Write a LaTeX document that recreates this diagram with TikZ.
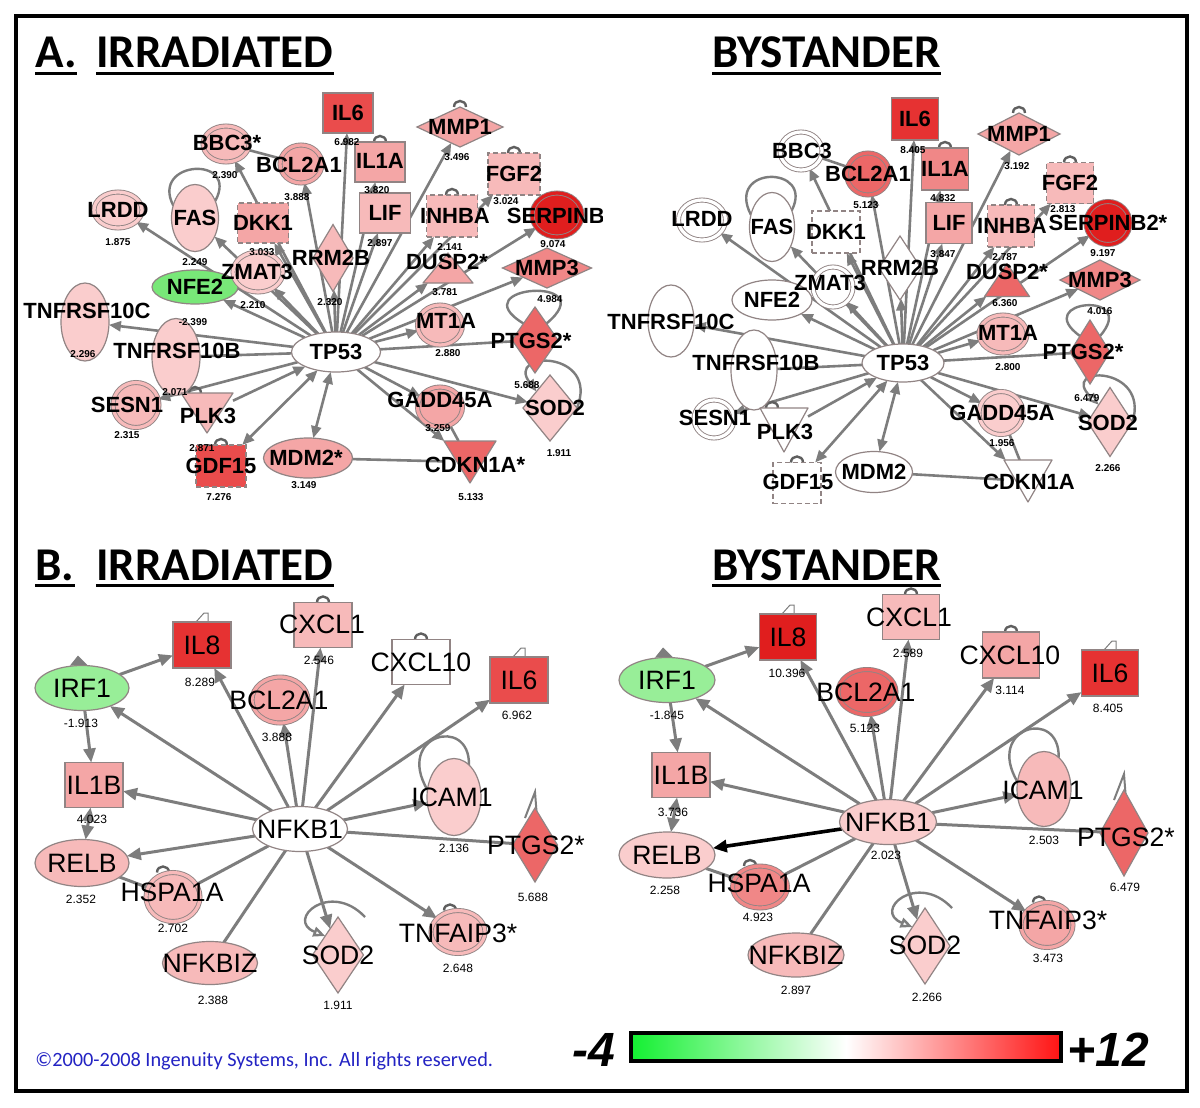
\documentclass[tikz,border=0pt]{standalone}
\usepackage{fontspec}
\setmainfont{Liberation Sans}
\newfontfamily\carl{Carlito}
\usetikzlibrary{shapes.geometric,arrows.meta}
\pgfdeclarelayer{edg}\pgfdeclarelayer{lab}\pgfsetlayers{edg,main,lab}
\definecolor{ng}{RGB}{145,132,132}
\definecolor{eg}{RGB}{125,125,125}
\definecolor{dg}{RGB}{95,95,95}
\definecolor{p1}{RGB}{250,205,205}
\definecolor{p2}{RGB}{247,186,186}
\definecolor{p3}{RGB}{244,166,166}
\definecolor{p4}{RGB}{240,135,135}
\definecolor{p5}{RGB}{236,103,103}
\definecolor{p6}{RGB}{234,76,76}
\definecolor{p7}{RGB}{230,50,50}
\definecolor{p8}{RGB}{224,30,30}
\definecolor{gA}{RGB}{120,232,120}
\definecolor{gB}{RGB}{152,238,152}
\definecolor{cbG}{RGB}{20,240,50}
\definecolor{cbR}{RGB}{255,20,20}
\definecolor{cpblue}{RGB}{35,35,195}
\tikzset{
 base/.style={inner sep=0pt, outer sep=0pt, draw=ng, line width=0.6pt},
 ell/.style n args={3}{base, ellipse, minimum width=#1*0.5pt, minimum height=#2*0.5pt, fill=#3},
 dbl/.style n args={3}{base, ellipse, minimum width=#1*0.5pt, minimum height=#2*0.5pt, fill=#3, double=#3, double distance=1.6pt, line width=0.45pt},
 box/.style n args={3}{base, rectangle, minimum width=#1*0.5pt, minimum height=#2*0.5pt, fill=#3},
 dbox/.style n args={3}{box={#1}{#2}{#3}, dash pattern=on 2.5pt off 1.5pt},
 dia/.style n args={3}{base, diamond, minimum width=#1*0.5pt, minimum height=#2*0.5pt, fill=#3},
 tribox/.style 2 args={inner sep=0pt, outer sep=0pt, minimum width=#1*0.5pt, minimum height=#2*0.5pt},
 trist/.style={draw=ng, line width=0.6pt, line join=round},
 lblA/.style={inner sep=0pt, font=\fontsize{11}{12}\selectfont\bfseries},
 lblB/.style={inner sep=0pt, font=\fontsize{13.3}{14}\selectfont},
 valA/.style={inner sep=0pt, font=\fontsize{5}{6}\selectfont\bfseries},
 valB/.style={inner sep=0pt, font=\fontsize{6}{7}\selectfont},
 ttl/.style={inner sep=0pt, anchor=base west, font=\carl\bfseries\fontsize{23.5}{24}\selectfont},
 eA/.style={draw=eg, line width=1.3pt, >={Triangle[length=6pt,width=5pt]}},
 arA/.style={eA, ->},
 biA/.style={eA, <->},
 eB/.style={draw=eg, line width=1.5pt, >={Triangle[length=7pt,width=6pt]}},
 arB/.style={eB, ->},
 biB/.style={eB, <->},
 lp/.style={draw=eg, line width=1.2pt},
 opn/.style={{Triangle[open,fill=white,length=6pt,width=5pt]}-},
 sm/.style={draw=dg, line width=1.2pt},
 thinl/.style={draw=eg, line width=0.5pt},
}
\newcommand\TRU[5]{\node[tribox={#3}{#4}] (#1) at (#2) {};\filldraw[trist, fill=#5] (#1.south west) -- (#1.south east) -- (#1.north) -- cycle;}
\newcommand\TRD[5]{\node[tribox={#3}{#4}] (#1) at (#2) {};\filldraw[trist, fill=#5] (#1.north west) -- (#1.north east) -- (#1.south) -- cycle;}
\newcommand\LA[3]{\begin{pgfonlayer}{lab}\node[lblA] (#1t) at (#2) {#3};\end{pgfonlayer}}
\newcommand\LB[3]{\begin{pgfonlayer}{lab}\node[lblB] (#1t) at (#2) {#3};\end{pgfonlayer}}
\newcommand\VA[3]{\begin{pgfonlayer}{lab}\node[valA] (#1v) at (#2) {#3};\end{pgfonlayer}}
\newcommand\VB[3]{\begin{pgfonlayer}{lab}\node[valB] (#1v) at (#2) {#3};\end{pgfonlayer}}
\newcommand\smarc[2][0]{\draw[sm] ([xshift=#1*0.5pt-3pt]#2.north) .. controls +(0,-8) and +(0,-8) .. ([xshift=#1*0.5pt+3pt]#2.north);}
\newcommand\flagl[1]{\draw[thinl] ([xshift=-3pt]#1.north) -- ++(8,-9) -- ++(4,0) -- ([xshift=3pt]#1.north);}
\newcommand\irft[1]{\fill[eg] ([xshift=-6pt]#1.north) -- ([shift={(-2pt,5pt)}]#1.north) -- ([xshift=3pt]#1.north) -- cycle;}
\begin{document}
\begin{tikzpicture}[x=0.5pt,y=-0.5pt]
\useasboundingbox (0,0) rectangle (1200,1108);
\begin{pgfonlayer}{edg}\fill[white] (0,0) rectangle (1200,1108);\end{pgfonlayer}
\draw[line width=2pt] (16,16) rectangle (1187,1091);
% titles
\node[ttl] (tA) at (35,68) {A.};
\node[ttl] (tA1) at (96,68) {IRRADIATED};
\node[ttl] (tA2) at (712,68) {BYSTANDER};
\node[ttl] (tB) at (35,580) {B.};
\node[ttl] (tB1) at (96,580) {IRRADIATED};
\node[ttl] (tB2) at (712,580) {BYSTANDER};
\foreach \t in {tA,tA1,tA2,tB,tB1,tB2}
  \draw[line width=1.5pt] ([yshift=-2.6pt]\t.base west) -- ([yshift=-2.6pt]\t.base east);
% ================= Panel A irradiated =================
\node[ell={89}{40}{white}] (aTP53) at (336,352) {};
\node[box={50}{40}{p6}] (aIL6) at (348,113) {};
\node[dbl={46}{36}{p2}] (aBBC3) at (226,144) {};
\node[dbl={42}{38}{p3}] (aBCL2A1) at (301,164) {};
\node[box={50}{40}{p3}] (aIL1A) at (380,162) {};
\node[dia={86}{40}{p3}] (aMMP1) at (460,127) {};
\node[dbox={52}{42}{p2}] (aFGF2) at (514,174) {};
\node[dbl={50}{44}{p8}] (aSERPINB2) at (557,215) {};
\node[dbl={48}{36}{p1}] (aLRDD) at (118,210) {};
\node[ell={47}{67}{p1}] (aFAS) at (195,218) {};
\node[dbox={51}{40}{p3}] (aDKK1) at (263,223) {};
\node[box={51}{40}{p2}] (aLIF) at (385,213) {};
\node[dbox={51}{42}{p2}] (aINHBA) at (452,216) {};
\node[dia={40}{67}{p2}] (aRRM2B) at (333,258) {};
\TRU{aDUSP2}{448,268}{50}{30}{p3}
\node[dia={89}{40}{p4}] (aMMP3) at (547,268) {};
\node[ell={86}{34}{gA}] (aNFE2) at (195,287) {};
\node[dbl={50}{40}{p1}] (aZMAT3) at (258,272) {};
\node[ell={48}{78}{p1}] (aTNFRSF10C) at (85,322) {};
\node[ell={48}{77}{p1}] (aTNFRSF10B) at (176,357) {};
\node[dbl={45}{40}{p2}] (aMT1A) at (440,325) {};
\node[dia={46}{66}{p5}] (aPTGS2) at (535,340) {};
\node[dbl={46}{45}{p2}] (aSESN1) at (136,405) {};
\TRD{aPLK3}{207,413}{52}{40}{p2}
\node[dbl={45}{40}{p3}] (aGADD45A) at (440,407) {};
\node[dia={54}{66}{p1}] (aSOD2) at (550,408) {};
\node[dbox={50}{42}{p6}] (aGDF15) at (221,466) {};
\node[ell={89}{40}{p3}] (aMDM2) at (308,458) {};
\TRD{aCDKN1A}{470,462}{52}{42}{p5}
\LA{aTP53}{336,352}{TP53}
\LA{aIL6}{348,113}{IL6}
\LA{aBBC3}{227,143}{BBC3*}
\LA{aBCL2A1}{299,165}{BCL2A1}
\LA{aIL1A}{380,161}{IL1A}
\LA{aMMP1}{460,127}{MMP1}
\LA{aFGF2}{514,174}{FGF2}
\begin{pgfonlayer}{lab}\begin{scope}\clip (0,0) rectangle (602,600);
\node[lblA] (aSERPINB2t) at (562,216) {SERPINB2};\end{scope}\end{pgfonlayer}
\LA{aLRDD}{118,210}{LRDD}
\LA{aFAS}{195,218}{FAS}
\LA{aDKK1}{263,223}{DKK1}
\LA{aLIF}{385,213}{LIF}
\LA{aINHBA}{455,216}{INHBA}
\LA{aRRM2B}{331,258}{RRM2B}
\LA{aDUSP2}{447,262}{DUSP2*}
\LA{aMMP3}{547,268}{MMP3}
\LA{aZMAT3}{257,272}{ZMAT3}
\LA{aNFE2}{195,287}{NFE2}
\LA{aTNFRSF10C}{87,311}{TNFRSF10C}
\LA{aTNFRSF10B}{177,351}{TNFRSF10B}
\LA{aMT1A}{446,321}{MT1A}
\LA{aPTGS2}{531,341}{PTGS2*}
\LA{aSESN1}{127,405}{SESN1}
\LA{aPLK3}{208,416}{PLK3}
\LA{aGADD45A}{440,400}{GADD45A}
\LA{aSOD2}{555,408}{SOD2}
\LA{aGDF15}{221,466}{GDF15}
\LA{aMDM2}{306,458}{MDM2*}
\LA{aCDKN1A}{475,465}{CDKN1A*}
\VA{aIL6}{347,142}{6.982}
\VA{aBBC3}{225,175}{2.390}
\VA{aBCL2A1}{297,197}{3.888}
\VA{aIL1A}{377,190}{3.820}
\VA{aMMP1}{457,157}{3.496}
\VA{aFGF2}{506,201}{3.024}
\VA{aSERPINB2}{553,244}{9.074}
\VA{aLRDD}{118,242}{1.875}
\VA{aFAS}{195,262}{2.249}
\VA{aDKK1}{262,252}{3.033}
\VA{aLIF}{380,243}{2.897}
\VA{aINHBA}{450,247}{2.141}
\VA{aRRM2B}{330,302}{2.320}
\VA{aDUSP2}{445,292}{3.781}
\VA{aMMP3}{550,299}{4.984}
\VA{aZMAT3}{253,305}{2.210}
\VA{aNFE2}{193,322}{-2.399}
\VA{aTNFRSF10C}{83,354}{2.296}
\VA{aTNFRSF10B}{175,392}{2.071}
\VA{aMT1A}{448,353}{2.880}
\VA{aPTGS2}{527,385}{5.688}
\VA{aSESN1}{127,435}{2.315}
\VA{aPLK3}{202,448}{2.871}
\VA{aGADD45A}{438,428}{3.259}
\VA{aSOD2}{559,453}{1.911}
\VA{aGDF15}{219,497}{7.276}
\VA{aMDM2}{304,485}{3.149}
\VA{aCDKN1A}{471,497}{5.133}
% ================= Panel A bystander =================
\node[ell={82}{38}{white}] (bTP53) at (903,363) {};
\node[box={47}{42}{p7}] (bIL6) at (915,119) {};
\node[dbl={42}{38}{white}] (bBBC3) at (801,151) {};
\node[dbl={43}{42}{p5}] (bBCL2A1) at (868,174) {};
\node[box={47}{42}{p4}] (bIL1A) at (945,169) {};
\node[dia={82}{42}{p3}] (bMMP1) at (1019,134) {};
\node[dbox={47}{41}{p2}] (bFGF2) at (1070,183) {};
\node[dbl={44}{43}{p8}] (bSERPINB2) at (1108,223) {};
\node[dbl={47}{40}{white}] (bLRDD) at (702,220) {};
\node[ell={45}{69}{white}] (bFAS) at (772,227) {};
\node[dbox={48}{42}{white}] (bDKK1) at (836,232) {};
\node[box={46}{41}{p3}] (bLIF) at (949,223) {};
\node[dbox={47}{42}{p2}] (bINHBA) at (1011,226) {};
\node[dia={42}{64}{white}] (bRRM2B) at (900,268) {};
\TRU{bDUSP2}{1007,280}{45}{33}{p5}
\node[dia={80}{40}{p4}] (bMMP3) at (1100,280) {};
\node[ell={80}{40}{white}] (bNFE2) at (772,300) {};
\node[dbl={40}{40}{white}] (bZMAT3) at (833,287) {};
\node[ell={46}{72}{white}] (bTNFRSF10C) at (671,321) {};
\node[ell={46}{80}{white}] (bTNFRSF10B) at (754,370) {};
\node[dbl={48}{38}{p2}] (bMT1A) at (1003,334) {};
\node[dia={40}{64}{p5}] (bPTGS2) at (1090,352) {};
\node[dbl={40}{38}{white}] (bSESN1) at (714,419) {};
\TRD{bPLK3}{784,430}{48}{44}{white}
\node[dbl={44}{43}{p1}] (bGADD45A) at (1001,413) {};
\node[dia={45}{69}{p1}] (bSOD2) at (1110,422) {};
\node[dbox={48}{41}{white}] (bGDF15) at (797,483) {};
\node[ell={77}{41}{white}] (bMDM2) at (874,472) {};
\TRD{bCDKN1A}{1028,481}{48}{42}{white}
\LA{bTP53}{903,363}{TP53}
\LA{bIL6}{915,119}{IL6}
\LA{bBBC3}{802,151}{BBC3}
\LA{bBCL2A1}{868,174}{BCL2A1}
\LA{bIL1A}{945,169}{IL1A}
\LA{bMMP1}{1019,134}{MMP1}
\LA{bFGF2}{1070,183}{FGF2}
\LA{bSERPINB2}{1108,223}{SERPINB2*}
\LA{bLRDD}{702,219}{LRDD}
\LA{bFAS}{772,227}{FAS}
\LA{bDKK1}{836,232}{DKK1}
\LA{bLIF}{949,223}{LIF}
\LA{bINHBA}{1012,226}{INHBA}
\LA{bRRM2B}{900,268}{RRM2B}
\LA{bDUSP2}{1007,272}{DUSP2*}
\LA{bMMP3}{1100,280}{MMP3}
\LA{bZMAT3}{830,283}{ZMAT3}
\LA{bNFE2}{772,300}{NFE2}
\LA{bTNFRSF10C}{671,322}{TNFRSF10C}
\LA{bTNFRSF10B}{756,363}{TNFRSF10B}
\LA{bMT1A}{1008,333}{MT1A}
\LA{bPTGS2}{1083,352}{PTGS2*}
\LA{bSESN1}{715,418}{SESN1}
\LA{bPLK3}{785,432}{PLK3}
\LA{bGADD45A}{1002,413}{GADD45A}
\LA{bSOD2}{1108,423}{SOD2}
\LA{bGDF15}{798,482}{GDF15}
\LA{bMDM2}{874,472}{MDM2}
\LA{bCDKN1A}{1029,482}{CDKN1A}
\VA{bIL6}{913,150}{8.405}
\VA{bBCL2A1}{866,205}{5.123}
\VA{bIL1A}{943,198}{4.832}
\VA{bMMP1}{1017,166}{3.192}
\VA{bFGF2}{1063,209}{2.813}
\VA{bSERPINB2}{1103,253}{9.197}
\VA{bLIF}{943,254}{3.847}
\VA{bINHBA}{1005,257}{2.787}
\VA{bDUSP2}{1005,303}{6.360}
\VA{bMMP3}{1100,311}{4.016}
\VA{bMT1A}{1008,367}{2.800}
\VA{bPTGS2}{1087,398}{6.479}
\VA{bGADD45A}{1002,443}{1.956}
\VA{bSOD2}{1108,468}{2.266}
% ================= Panel B irradiated =================
\node[ell={95}{45}{white}] (cNFKB1) at (300,829) {};
\node[ell={94}{45}{gB}] (cIRF1) at (82,688) {};
\node[box={58}{46}{p7}] (cIL8) at (202,645) {};
\node[box={58}{45}{p2}] (cCXCL1) at (323,625) {};
\node[box={58}{45}{white}] (cCXCL10) at (421,662) {};
\node[box={58}{46}{p6}] (cIL6) at (519,680) {};
\node[dbl={56}{46}{p3}] (cBCL2A1) at (280,700) {};
\node[box={58}{45}{p3}] (cIL1B) at (94,785) {};
\node[ell={54}{77}{p1}] (cICAM1) at (454,797) {};
\node[dia={45}{74}{p5}] (cPTGS2) at (535,845) {};
\node[ell={94}{47}{p2}] (cRELB) at (82,863) {};
\node[dbl={54}{49}{p2}] (cHSPA1A) at (173,897) {};
\node[ell={95}{43}{p2}] (cNFKBIZ) at (210,963) {};
\node[dia={51}{76}{p1}] (cSOD2) at (338,955) {};
\node[dbl={54}{43}{p2}] (cTNFAIP3) at (458,932) {};
\LB{cNFKB1}{300,829}{NFKB1}
\LB{cIRF1}{82,688}{IRF1}
\LB{cIL8}{202,645}{IL8}
\LB{cCXCL1}{322,624}{CXCL1}
\LB{cCXCL10}{421,662}{CXCL10}
\LB{cIL6}{519,680}{IL6}
\LB{cBCL2A1}{279,700}{BCL2A1}
\LB{cIL1B}{94,785}{IL1B}
\LB{cICAM1}{452,797}{ICAM1}
\LB{cPTGS2}{536,845}{PTGS2*}
\LB{cRELB}{82,863}{RELB}
\LB{cHSPA1A}{172,892}{HSPA1A}
\LB{cNFKBIZ}{210,963}{NFKBIZ}
\LB{cSOD2}{338,955}{SOD2}
\LB{cTNFAIP3}{458,933}{TNFAIP3*}
\VB{cIRF1}{81,723}{-1.913}
\VB{cIL8}{200,682}{8.289}
\VB{cCXCL1}{319,660}{2.546}
\VB{cIL6}{517,715}{6.962}
\VB{cBCL2A1}{277,737}{3.888}
\VB{cIL1B}{92,819}{4.023}
\VB{cICAM1}{454,848}{2.136}
\VB{cPTGS2}{533,897}{5.688}
\VB{cRELB}{81,899}{2.352}
\VB{cHSPA1A}{173,928}{2.702}
\VB{cNFKBIZ}{213,1000}{2.388}
\VB{cSOD2}{338,1005}{1.911}
\VB{cTNFAIP3}{458,968}{2.648}
% ================= Panel B bystander =================
\node[ell={97}{45}{p1}] (dNFKB1) at (888,822) {};
\node[ell={96}{45}{gB}] (dIRF1) at (667,680) {};
\node[box={57}{46}{p8}] (dIL8) at (788,637) {};
\node[box={57}{45}{p2}] (dCXCL1) at (911,617) {};
\node[box={57}{46}{p3}] (dCXCL10) at (1011,655) {};
\node[box={57}{46}{p7}] (dIL6) at (1110,673) {};
\node[dbl={58}{45}{p5}] (dBCL2A1) at (867,692) {};
\node[box={58}{45}{p3}] (dIL1B) at (681,775) {};
\node[ell={54}{75}{p2}] (dICAM1) at (1044,789) {};
\node[dia={48}{86}{p5}] (dPTGS2) at (1124,833) {};
\node[ell={96}{46}{p1}] (dRELB) at (667,855) {};
\node[dbl={55}{42}{p4}] (dHSPA1A) at (760,887) {};
\node[ell={96}{44}{p2}] (dNFKBIZ) at (796,955) {};
\node[dia={50}{76}{p1}] (dSOD2) at (925,946) {};
\node[dbl={52}{45}{p3}] (dTNFAIP3) at (1047,925) {};
\LB{dNFKB1}{888,822}{NFKB1}
\LB{dIRF1}{667,680}{IRF1}
\LB{dIL8}{788,637}{IL8}
\LB{dCXCL1}{909,617}{CXCL1}
\LB{dCXCL10}{1010,655}{CXCL10}
\LB{dIL6}{1110,673}{IL6}
\LB{dBCL2A1}{866,692}{BCL2A1}
\LB{dIL1B}{681,775}{IL1B}
\LB{dICAM1}{1043,790}{ICAM1}
\LB{dPTGS2}{1126,837}{PTGS2*}
\LB{dRELB}{667,855}{RELB}
\LB{dHSPA1A}{759,883}{HSPA1A}
\LB{dNFKBIZ}{796,955}{NFKBIZ}
\LB{dSOD2}{925,945}{SOD2}
\LB{dTNFAIP3}{1048,920}{TNFAIP3*}
\VB{dNFKB1}{886,855}{2.023}
\VB{dIRF1}{667,715}{-1.845}
\VB{dIL8}{787,673}{10.396}
\VB{dCXCL1}{908,653}{2.589}
\VB{dCXCL10}{1010,690}{3.114}
\VB{dIL6}{1108,708}{8.405}
\VB{dBCL2A1}{865,728}{5.123}
\VB{dIL1B}{673,812}{3.736}
\VB{dICAM1}{1044,840}{2.503}
\VB{dPTGS2}{1125,887}{6.479}
\VB{dRELB}{665,890}{2.258}
\VB{dHSPA1A}{758,917}{4.923}
\VB{dNFKBIZ}{796,990}{2.897}
\VB{dSOD2}{927,997}{2.266}
\VB{dTNFAIP3}{1048,958}{3.473}
% ================= edges =================
\begin{pgfonlayer}{edg}
\foreach \p in {a,b}{
  \foreach \n in {LRDD,BBC3,BCL2A1,IL6,IL1A,LIF,MMP1,FGF2,INHBA,SERPINB2,DUSP2,MMP3,MT1A,GADD45A,SOD2,CDKN1A,SESN1,TNFRSF10C,NFE2,ZMAT3,FAS,DKK1,RRM2B}
    \draw[arA] (\p TP53) -- (\p\n);
  \draw[eA] (\p TP53) -- (\p PTGS2);
  \draw[eA] (\p TP53) -- (\p TNFRSF10B);
  \draw[eA] (\p BBC3) -- (\p BCL2A1);
  \draw[eA] (\p GADD45A) -- (\p CDKN1A);
  \draw[eA] (\p MDM2) -- (\p CDKN1A);
  \draw[biA] (\p TP53) -- (\p MDM2);
  \draw[biA] (\p TP53) -- (\p GDF15);
  \draw[arA] (\p PLK3) -- (\p TP53);
  \smarc{\p MMP1}\smarc{\p FGF2}\smarc{\p INHBA}\smarc{\p IL1A}\smarc[-12]{\p PLK3}\smarc{\p GDF15}
}
\foreach \p in {c,d}{
  \draw[arB] (\p IRF1) -- (\p IL8);
  \draw[arB] (\p IRF1) -- (\p IL1B);
  \foreach \n in {IRF1,IL8,BCL2A1,CXCL1,CXCL10,IL6,ICAM1,IL1B,SOD2,TNFAIP3}
    \draw[arB] (\p NFKB1) -- (\p\n);
  \draw[eB] (\p NFKB1) -- (\p PTGS2);
  \draw[eB] (\p NFKB1) -- (\p HSPA1A);
  \draw[eB] (\p NFKB1) -- (\p NFKBIZ);
  \draw[eB] (\p RELB) -- (\p HSPA1A);
  \draw[biB] (\p RELB) -- (\p IL1B);
  \smarc{\p CXCL1}\smarc{\p CXCL10}\smarc[-10]{\p HSPA1A}\smarc[-8]{\p TNFAIP3}
  \flagl{\p IL8}\flagl{\p IL6}\irft{\p IRF1}
  \draw[thinl, line width=1pt] ([shift={(-5pt,-5pt)}]\p PTGS2.north) -- ([shift={(0pt,8pt)}]\p PTGS2.north) -- ([shift={(1pt,-5pt)}]\p PTGS2.north);
}
\draw[arB] (cNFKB1) -- (cRELB);
\draw[eB, ->, draw=black, line width=1.8pt] (dNFKB1) -- (dRELB);
% self loops
\draw[lp] (aFAS.150) .. controls (150,160) and (240,155) .. (aFAS.40);
\draw[lp] (bFAS.150) .. controls (725,165) and (815,165) .. (bFAS.40);
\draw[lp] (aPTGS2.north west) .. controls (460,285) and (605,275) .. (aPTGS2.north east);
\draw[lp] (bPTGS2.north west) .. controls (1030,300) and (1140,290) .. (bPTGS2.north east);
\draw[lp, opn] (aSOD2.north west) .. controls (505,350) and (600,350) .. (aSOD2.east);
\draw[lp, opn] (bSOD2.north west) .. controls (1058,365) and (1150,365) .. (bSOD2.east);
\draw[lp] (cICAM1.165) .. controls (395,735) and (470,715) .. (cICAM1.65);
\draw[lp] (dICAM1.165) .. controls (985,727) and (1060,707) .. (dICAM1.65);
\draw[lp, opn] (cSOD2.north west) .. controls (285,920) and (330,880) .. ([xshift=13.5pt]cSOD2.north);
\draw[lp, opn] (dSOD2.north west) .. controls (872,911) and (917,871) .. ([xshift=13.5pt]dSOD2.north);
\end{pgfonlayer}
% ================= footer =================
\node[font=\carl\fontsize{10.15}{11}\selectfont, text=cpblue, anchor=base west, inner sep=0pt] (copy) at (35,1066) {©2000-2008 Ingenuity Systems, Inc. All rights reserved.};
\shade[left color=cbG, right color=cbR, middle color=white] (632,1034) rectangle (1060,1060);
\draw[line width=1.6pt] (631,1033) rectangle (1061,1061);
\node[font=\bfseries\itshape\fontsize{24}{24}\selectfont, anchor=base east, inner sep=0pt] (cbmin) at (616,1066) {-4};
\node[font=\bfseries\itshape\fontsize{24}{24}\selectfont, anchor=base west, inner sep=0pt] (cbmax) at (1067,1066) {+12};
\end{tikzpicture}
\end{document}
